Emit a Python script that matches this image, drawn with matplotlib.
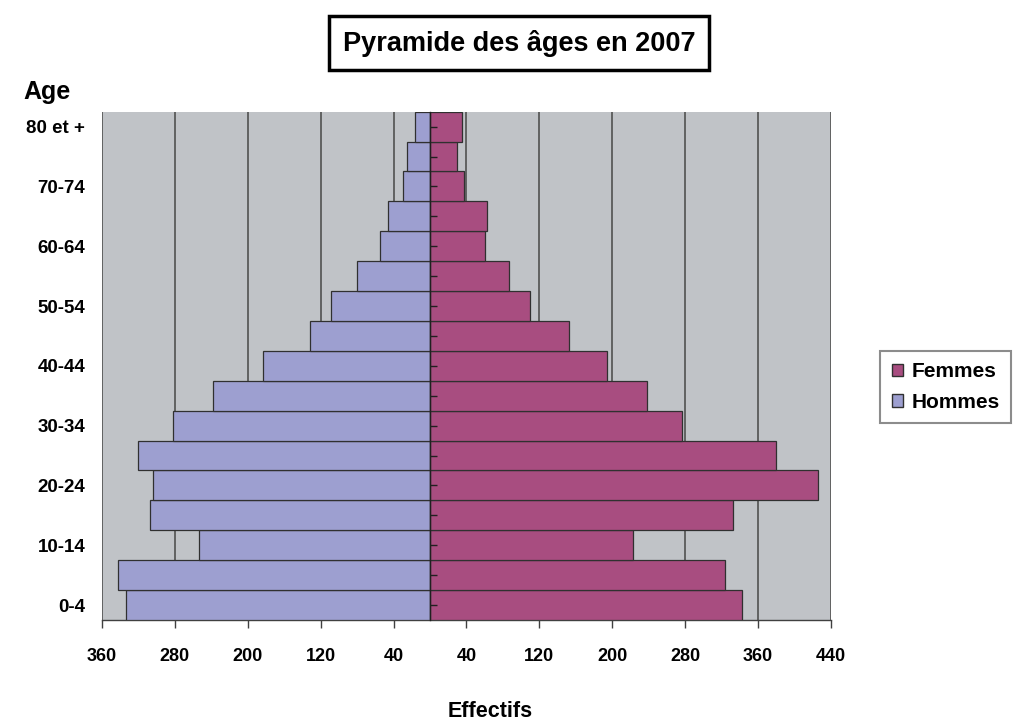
import matplotlib
matplotlib.use("Agg")
import matplotlib.pyplot as plt
import numpy as np
from matplotlib.patches import Patch

plt.rcParams['font.family'] = ['Liberation Sans', 'DejaVu Sans']

ages = ['0-4', '5-9', '10-14', '15-19', '20-24', '25-29', '30-34', '35-39',
        '40-44', '45-49', '50-54', '55-59', '60-64', '65-69', '70-74', '75-79', '80 et +']
hommes = [334, 342, 253, 307, 304, 321, 282, 238, 183, 132, 109, 80, 55, 46, 30, 25, 16]
femmes = [342, 324, 223, 332, 426, 380, 276, 238, 194, 152, 110, 87, 60, 63, 37, 30, 35]
xticks = [-360, -280, -200, -120, -40, 40, 120, 200, 280, 360, 440]

col_h = '#9D9FD0'
col_f = '#A84D80'
bg = '#C0C3C7'

fig = plt.figure(figsize=(10.30, 7.22), dpi=100)
ax = fig.add_axes([0.0990, 0.1413, 0.7078, 0.7040])
ax.set_facecolor(bg)

y = np.arange(len(ages))
ax.barh(y, [-v for v in hommes], height=1.0, color=col_h, edgecolor='#303030', linewidth=0.9, zorder=3)
ax.barh(y, femmes, height=1.0, color=col_f, edgecolor='#303030', linewidth=0.9, zorder=3)

ax.set_xlim(-360, 440)
ax.set_ylim(-0.5, len(ages) - 0.5)

ax.set_xticks(xticks)
ax.set_xticklabels([str(abs(v)) for v in xticks], fontsize=13, fontweight='bold')
ax.tick_params(axis='x', length=6, width=1, color='#404040', direction='out', pad=14)
ax.grid(axis='x', color='#5a5a5a', linewidth=1.3, zorder=1)

ax.set_yticks(y[::2])
ax.set_yticklabels(ages[::2], fontsize=13.5, fontweight='bold')
ax.tick_params(axis='y', length=0, pad=12)

for s in ['top', 'right', 'left']:
    ax.spines[s].set_visible(False)
ax.spines['bottom'].set_color('#404040')
ax.spines['bottom'].set_linewidth(1.0)

# central axis with small ticks
sec = ax.secondary_yaxis(360 / 800)
sec.set_yticks(y)
sec.set_yticklabels([''] * len(y))
sec.tick_params(axis='y', direction='in', length=5, width=1, color='#202020')
sec.spines['left'].set_color('#202020')
sec.spines['left'].set_linewidth(1.0)
sec.set_zorder(4)

# title in box
fig.text(0.504, 0.940, 'Pyramide des âges en 2007', ha='center', va='center',
         fontsize=19.5, fontweight='bold',
         bbox=dict(boxstyle='square,pad=0.5', facecolor='white', edgecolor='black', linewidth=2.5))

fig.text(0.046, 0.872, 'Age', ha='center', va='center', fontsize=18, fontweight='bold')
fig.text(0.476, 0.014, 'Effectifs', ha='center', va='center', fontsize=15.5, fontweight='bold')

handles = [Patch(facecolor=col_f, edgecolor='#303030', label='Femmes'),
           Patch(facecolor=col_h, edgecolor='#303030', label='Hommes')]
leg = fig.legend(handles=handles, loc='center', bbox_to_anchor=(0.918, 0.464),
                 frameon=True, fancybox=False, edgecolor='#707070',
                 prop={'weight': 'bold', 'size': 15}, handlelength=0.55, handleheight=0.55,
                 handletextpad=0.4, borderpad=0.55, labelspacing=0.55, borderaxespad=0)
leg.get_frame().set_linewidth(1.5)
leg._legend_box.align = 'left'

fig.savefig('out.png', dpi=100, facecolor='white')
